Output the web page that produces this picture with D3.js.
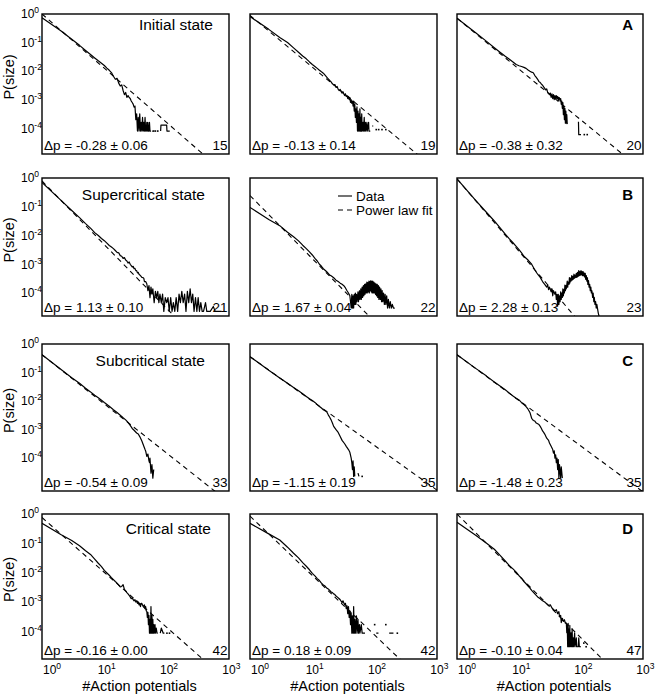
<!DOCTYPE html>
<html><head><meta charset="utf-8">
<script src="https://cdn.jsdelivr.net/npm/d3@7"></script>
<style>body{margin:0;background:#fff}text{font-family:Arial,"Liberation Sans",sans-serif;fill:#000}</style>
</head><body><svg id="c" width="656" height="695"></svg>
<script>
// ---------- DATA: [avalanche size (#action potentials), P(size)] ----------
const initial1=[[1,0.74],[2,0.26],[3,0.13],[4,0.08],[5,0.053],[6,0.038],[7,0.029],[8,0.023],[9,0.019],[10,0.0158],[11,0.0128],[12,0.0107],[13,0.0089],[14,0.0066],[15,0.0052],[16,0.0056],[17,0.0038],[18,0.003],[19,0.0033],[20,0.0021],[21,0.0015],[22,0.0018],[23,0.0012],[24,0.0014],[25,0.0012],[26,0.0011],[27,0.0009],[28,0.0008],[29,0.0007],[30,0.00055],[31,0.0006],[32,0.0002],[33,0.00032],[34,0.00008],[35,0.00024],[36,0.00008],[37,0.00032],[38,0.00008],[39,0.00016],[40,0.00008],[41,0.00024],[42,0.00008],[43,0.00016],[44,0.00008],[45,0.00024],[46,0.00008],[47,0.00008],[48,0.00016],[49,0.00008],[50,0.00016],[51,0.00008],[52,0.00008],[53,0.00016],[54,0.00008],[56,0.00008],[57,0],[58,0.00008],[60,0.00008],[61,0],[62,0.00008],[63,0],[66,0.00008],[67,0],[72,0.00008],[73,0],[80,0.00008],[81,0.00013],[100,0.00013],[101,0.00008],[112,0.00008],[113,0]];
const initial2=[[1,0.81],[2,0.29],[3,0.15],[4,0.1],[5,0.065],[6,0.046],[7,0.034],[8,0.027],[9,0.021],[10,0.017],[11,0.0145],[12,0.0125],[13,0.0108],[14,0.0095],[15,0.0085],[16,0.0072],[17,0.0062],[18,0.0054],[19,0.0047],[20,0.0042],[21,0.0036],[22,0.0033],[23,0.0034],[24,0.0027],[25,0.0029],[26,0.0023],[27,0.0021],[28,0.0023],[29,0.0019],[30,0.0017],[31,0.0019],[32,0.0016],[33,0.0014],[34,0.0016],[35,0.0013],[36,0.0014],[37,0.0011],[38,0.0013],[39,0.001],[40,0.0012],[41,0.0008],[42,0.001],[43,0.00075],[44,0.0009],[45,0.0006],[46,0.0009],[47,0.0004],[48,0.0007],[49,0.00024],[50,0.00048],[51,0.00016],[52,0.00056],[53,0.00008],[54,0.0004],[55,0.00008],[56,0.00032],[57,0.00008],[58,0.00048],[59,0.00008],[60,0.00024],[61,0.00008],[62,0.00032],[63,0.00008],[65,0.00016],[66,0.00008],[68,0.00024],[69,0.00008],[71,0.00016],[72,0.00008],[75,0.00016],[76,0.00008],[80,0.00016],[81,0.00008],[85,0.00008],[86,0],[90,0],[91,0.00012],[95,0.00012],[96,0],[105,0],[106,0.00009],[107,0],[115,0],[116,0.00009],[117,0],[130,0],[131,0.00009],[132,0],[150,0],[151,0.00009],[152,0]];
const initial3=[[1,0.71],[2,0.22],[3,0.11],[4,0.066],[5,0.045],[6,0.033],[7,0.026],[8,0.021],[9,0.017],[10,0.0155],[11,0.0145],[12,0.0135],[13,0.0125],[14,0.011],[15,0.01],[16,0.0092],[17,0.0088],[18,0.007],[19,0.006],[20,0.0052],[21,0.0043],[22,0.004],[23,0.0035],[24,0.0032],[25,0.0028],[26,0.0025],[27,0.0022],[28,0.0024],[29,0.0018],[30,0.0017],[31,0.0015],[32,0.0017],[33,0.0012],[34,0.0016],[35,0.0011],[36,0.0015],[37,0.001],[38,0.0014],[39,0.0011],[40,0.0014],[41,0.0011],[42,0.0013],[43,0.0009],[44,0.0012],[45,0.00115],[46,0.0009],[47,0.0011],[48,0.0007],[49,0.0009],[50,0.0005],[51,0.0008],[52,0.0003],[53,0.0006],[54,0.0002],[55,0.0005],[56,0.00015],[57,0.0004],[58,0.00015],[59,0.0003],[60,0.00014],[61,0],[90,0],[91,0.00017],[92,0.00006],[100,0.00006],[101,0],[112,0],[113,0.00006],[114,0],[125,0],[126,0.00006],[127,0]];
const super1=[[1,0.7],[2,0.17],[3,0.074],[4,0.042],[5,0.026],[6,0.018],[7,0.0126],[8,0.01],[9,0.0079],[10,0.0066],[11,0.0054],[12,0.0045],[13,0.004],[14,0.0035],[15,0.003],[16,0.0026],[17,0.0025],[18,0.002],[19,0.0019],[20,0.0016],[21,0.0017],[22,0.0014],[23,0.0013],[24,0.0011],[25,0.0012],[26,0.001],[27,0.0009],[28,0.0008],[29,0.00085],[30,0.0007],[31,0.00072],[32,0.0006],[33,0.0006],[34,0.0005],[35,0.00052],[36,0.00045],[38,0.0004],[40,0.00035],[42,0.00034],[43,0.00032],[44,0.00025],[46,0.00025],[48,0.00021],[50,1.2e-4],[52,1.8e-4],[54,6.9e-5],[56,1.6e-4],[58,9.2e-5],[60,1.4e-4],[63,4.6e-5],[66,1.15e-4],[69,6.9e-5],[72,1.15e-4],[75,4.6e-5],[78,9.2e-5],[82,4.6e-5],[86,9.2e-5],[90,2.3e-5],[95,6.9e-5],[100,4.6e-5],[105,6.9e-5],[110,2.3e-5],[116,6.9e-5],[122,2.3e-5],[128,4.6e-5],[135,2.3e-5],[142,6.9e-5],[150,2.3e-5],[158,9.2e-5],[166,4.6e-5],[175,1.15e-4],[184,4.6e-5],[194,9.2e-5],[204,2.3e-5],[215,1.15e-4],[226,4.6e-5],[238,1.4e-4],[250,4.6e-5],[262,9.2e-5],[275,2.3e-5],[290,6.9e-5],[305,2.3e-5],[320,6.9e-5],[336,2.3e-5],[353,4.6e-5],[371,2.3e-5],[390,2.3e-5],[420,4.6e-5],[440,2.3e-5],[500,2.3e-5],[560,3.4e-5],[600,2.3e-5],[700,2.3e-5],[760,2.3e-5]];
const super2=[[1,0.095],[2,0.036],[3,0.022],[4,0.013],[5,0.009],[6,0.0065],[7,0.0046],[8,0.0035],[9,0.0027],[10,0.0021],[11,0.0016],[12,0.0013],[13,0.001],[14,0.00085],[15,0.0007],[16,0.00062],[17,0.00055],[18,0.00048],[19,0.00042],[20,0.0004],[22,0.00034],[24,0.00028],[26,0.00025],[28,0.00022],[30,0.0002],[32,0.00018],[34,0.00015],[36,0.00012],[38,0.0001],[40,0.00008],[41,0.00005],[42,0.00003],[43,0.00009],[44,0.00003],[45,0.00008],[46,0.00003],[47,0.00009],[48,0.00004],[49,0.0001],[50,0.00004],[51,0.00009],[52,0.00005],[54,0.00011],[55,0.00005],[57,0.00012],[58,0.00006],[60,0.00014],[61,0.00006],[63,0.00016],[64,0.00007],[66,0.00018],[67,0.00008],[69,0.0002],[70,0.00009],[72,0.00021],[73,0.0001],[75,0.00024],[76,0.0001],[78,0.00023],[79,0.00011],[81,0.00026],[82,0.0001],[84,0.00025],[85,0.00012],[87,0.00027],[88,0.00011],[90,0.00025],[91,0.0001],[93,0.00026],[95,0.0001],[97,0.00024],[99,0.0001],[101,0.00022],[103,0.00009],[105,0.00021],[107,0.00008],[110,0.0002],[112,0.00007],[115,0.00018],[117,0.00006],[120,0.00016],[123,0.00006],[126,0.00014],[129,0.00005],[132,0.00012],[135,0.00005],[139,0.0001],[143,0.00004],[147,0.00009],[151,0.00004],[156,0.00008],[161,0.00003],[166,0.00006],[172,0.00003],[178,0.00005],[185,0.00003],[192,0.00004],[200,0.00003],[210,0.00003]];
const super3=[[1,0.93],[2,0.166],[3,0.063],[4,0.032],[5,0.018],[6,0.0112],[7,0.0076],[8,0.0056],[9,0.0042],[10,0.0032],[11,0.0025],[12,0.0019],[14,0.0014],[16,0.001],[18,0.00063],[20,0.00045],[22,0.00035],[24,0.00025],[26,0.0002],[28,0.00016],[29,0.00019],[30,0.00013],[31,0.00016],[33,0.00011],[34,0.00014],[35,0.00008],[36,0.00012],[38,0.00009],[39,0.00011],[40,0.00006],[41,0.00009],[42,0.000035],[43,0.00009],[44,0.00004],[45,0.00008],[46,0.00005],[47,0.00011],[48,0.00006],[49,0.0001],[50,0.00007],[51,0.00014],[52,0.00008],[53,0.00013],[54,0.0001],[55,0.00019],[56,0.00012],[57,0.00018],[58,0.00014],[60,0.00026],[61,0.00016],[62,0.00024],[64,0.0002],[65,0.00034],[66,0.00022],[68,0.00033],[69,0.00026],[71,0.0004],[72,0.00028],[74,0.00038],[75,0.0003],[77,0.00045],[78,0.00032],[80,0.00042],[82,0.00034],[84,0.00048],[86,0.00035],[88,0.00052],[90,0.00038],[92,0.0006],[94,0.0004],[96,0.00055],[98,0.00042],[100,0.0006],[102,0.00043],[104,0.00055],[106,0.0004],[108,0.00056],[110,0.0004],[112,0.0005],[114,0.00036],[117,0.00048],[119,0.0003],[122,0.0004],[124,0.00026],[127,0.00034],[129,0.0002],[132,0.00027],[135,0.00016],[138,0.0002],[141,0.00012],[144,0.00016],[147,0.0001],[150,0.00012],[154,0.00007],[157,0.0001],[161,0.00005],[164,0.00007],[168,0.00004],[172,0.00005],[176,0.00003],[180,0.00004],[190,0.00002],[200,0.000013]];
const sub1=[[1,0.42],[2,0.13],[3,0.066],[4,0.042],[5,0.028],[6,0.021],[7,0.016],[8,0.013],[9,0.0107],[10,0.0089],[12,0.0066],[14,0.005],[16,0.004],[18,0.0032],[20,0.0026],[22,0.0022],[24,0.0018],[26,0.0014],[28,0.0011],[30,0.00095],[33,0.00076],[35,0.0007],[37,0.00057],[40,0.0004],[43,0.00026],[45,0.0002],[46,0.00018],[48,0.000115],[50,0.00014],[52,0.00008],[53,0.00007],[54,0.0001],[56,0.00003],[58,0.00006],[60,0.00002],[62,0.00004]];
const sub2=[[1,0.36],[2,0.12],[3,0.065],[4,0.042],[5,0.03],[6,0.023],[7,0.018],[8,0.0145],[9,0.012],[10,0.0105],[11,0.009],[12,0.0075],[13,0.0065],[14,0.0057],[15,0.005],[16,0.0046],[17,0.0042],[18,0.0033],[19,0.0027],[20,0.0022],[21,0.0017],[22,0.0013],[24,0.001],[26,0.0008],[28,0.00057],[30,0.00042],[33,0.00032],[35,0.00026],[38,0.0002],[40,0.00016],[42,0.0001],[43,0.00007],[44,0.00004],[45,0.00008],[46,0.000023],[47,0.00005],[48,0.000023],[49,0],[53,0],[54,0.00003],[56,0.000023],[57,0],[62,0],[63,0.000023],[64,0]];
const sub3=[[1,0.42],[2,0.14],[3,0.075],[4,0.047],[5,0.033],[6,0.025],[7,0.019],[8,0.015],[9,0.0125],[10,0.011],[11,0.0088],[12,0.0075],[13,0.0064],[14,0.0052],[15,0.004],[16,0.0025],[17,0.0021],[18,0.002],[19,0.0017],[20,0.0016],[21,0.0015],[22,0.0013],[23,0.0011],[24,0.0009],[25,0.0008],[26,0.0007],[28,0.0005],[30,0.00042],[31,0.00034],[33,0.00026],[35,0.0002],[36,0.00015],[37,0.00018],[38,0.0001],[39,0.00013],[40,0.00007],[41,0.0001],[42,0.00004],[43,0.00009],[44,0.00002],[45,0.00006],[47,0.00002],[48,0.00005],[50,0.00002]];
const crit1=[[1,0.48],[2,0.2],[3,0.125],[4,0.083],[5,0.056],[6,0.042],[7,0.029],[8,0.021],[9,0.016],[10,0.012],[11,0.0098],[12,0.0082],[13,0.0068],[14,0.0058],[15,0.005],[16,0.0044],[17,0.0038],[18,0.0033],[19,0.0034],[20,0.0039],[21,0.0027],[22,0.0024],[23,0.0021],[24,0.0019],[25,0.0017],[26,0.0015],[27,0.0013],[28,0.0014],[29,0.0012],[30,0.0011],[31,0.0012],[32,0.001],[33,0.0011],[34,0.0009],[35,0.001],[36,0.0008],[37,0.0009],[38,0.0007],[39,0.0009],[40,0.0009],[42,0.0007],[44,0.0008],[45,0.0006],[46,0.0007],[47,0.0005],[48,0.00048],[49,0.0003],[50,0.00045],[51,0.00017],[52,0.00035],[53,0.000087],[54,0.00026],[55,0.000087],[56,0.0007],[57,0.000087],[58,0.00035],[59,0.000087],[60,0.00026],[61,0.000087],[62,0.00017],[63,0.000087],[65,0.00017],[66,0.000087],[68,0.00013],[70,0.000087],[72,0.000087],[73,0],[78,0],[79,0.000087],[82,0.00013],[88,0.000087],[92,0.000087],[93,0],[100,0],[101,0.000087],[102,0],[110,0],[111,0.000087],[112,0]];
const crit2=[[1,0.48],[2,0.21],[3,0.13],[4,0.074],[5,0.046],[6,0.032],[7,0.022],[8,0.0166],[9,0.0126],[10,0.0095],[11,0.0078],[12,0.0063],[13,0.0054],[14,0.0044],[15,0.0038],[16,0.0035],[17,0.003],[18,0.0028],[19,0.0025],[20,0.0022],[21,0.0021],[22,0.0019],[23,0.0018],[24,0.0016],[25,0.0015],[27,0.0013],[28,0.0012],[30,0.00095],[31,0.0011],[33,0.0008],[34,0.0009],[35,0.0006],[36,0.00075],[37,0.0004],[38,0.0007],[39,0.0003],[40,0.0005],[41,0.00017],[42,0.00042],[43,0.000087],[44,0.00034],[45,0.000087],[46,0.0007],[47,0.000087],[48,0.00026],[49,0.000087],[51,0.00034],[52,0.000087],[54,0.00026],[55,0.000087],[57,0.00017],[58,0.000087],[61,0.00017],[63,0.000087],[66,0.000087],[70,0.000087],[71,0],[99,0],[100,0.00017],[101,0],[105,0],[106,0.000087],[115,0.000087],[116,0],[150,0],[151,0.00017],[152,0],[170,0],[171,0.000087],[200,0.000087],[201,0],[230,0],[231,0.000087],[232,0]];
const crit3=[[1,0.52],[2,0.19],[3,0.1],[4,0.063],[5,0.038],[6,0.025],[7,0.0174],[8,0.0135],[9,0.0105],[10,0.0079],[11,0.0065],[12,0.005],[13,0.0042],[14,0.0035],[15,0.003],[16,0.0025],[18,0.0019],[20,0.0015],[22,0.0013],[24,0.0011],[26,0.001],[28,0.00087],[30,0.00076],[32,0.0008],[34,0.00063],[36,0.00056],[38,0.0005],[40,0.00055],[42,0.0004],[44,0.00047],[45,0.00032],[47,0.00035],[48,0.0002],[50,0.00028],[52,0.00022],[54,0.00025],[56,0.00019],[58,0.00019],[59,0.00009],[60,0.00016],[61,0.00003],[62,0.00019],[63,0.00003],[64,0.00012],[65,0.00003],[66,0.00016],[67,0.00003],[69,0.00009],[70,0.00003],[72,0.00012],[73,0.00003],[75,0.00006],[76,0.00003],[79,0.00009],[80,0.00003],[84,0.00006],[85,0.00003],[90,0.00003],[92,0.00006],[94,0.00003],[100,0.00003],[101,0],[110,0],[111,0.00004],[112,0],[120,0],[121,0.00003],[122,0]];

// power-law fits: two end points each
const fitInitial=[[[1,1],[430,1e-5]],[[1,0.89],[540,1e-5]],[[1,0.71],[530,1e-5]]];
const fitSuper=[[[1,0.79],[162,1e-5]],[[1,0.245],[100,1e-5]],[[1,0.93],[94,1e-5]]];
const fitSub=[[[1,0.42],[630,6.3e-6]],[[1,0.36],[1000,7.6e-6]],[[1,0.42],[1000,6.6e-6]]];
const fitCrit=[[[1,0.76],[407,1e-5]],[[1,0.85],[270,1e-5]],[[1,1],[234,1e-5]]];

const stateLabels=["Initial state","Supercritical state","Subcritical state","Critical state"];
const panelLetters=["A","B","C","D"];
const dpMean=[[-0.28,-0.13,-0.38],[1.13,1.67,2.28],[-0.54,-1.15,-1.48],[-0.16,0.18,-0.10]];
const dpErr=[[0.06,0.14,0.32],[0.10,0.04,0.13],[0.09,0.19,0.23],[0.00,0.09,0.04]];
const nCount=[[15,19,20],[21,22,23],[33,35,35],[42,42,47]];
const xTicks=[1,10,100,1000];
const yTicks=[1,0.1,0.01,0.001,0.0001];
const legendLabels=["Data","Power law fit"];

// ---------- LAYOUT ----------
const dataRows=[[initial1,initial2,initial3],[super1,super2,super3],[sub1,sub2,sub3],[crit1,crit2,crit3]];
const fitRows=[fitInitial,fitSuper,fitSub,fitCrit];
const cols=[{l:42,r:229},{l:250,r:437},{l:457,r:643}];
const rows=[{t:14,b:154,e:-4.9,lab:16,labR:16},{t:178,b:316,e:-4.8,lab:22,labR:24},{t:344,b:491,e:-5.15,lab:22,labR:24},{t:514,b:659,e:-4.94,lab:20,labR:18}];

const svg=d3.select("#c");
const defs=svg.append("defs");

function pow10(g,x,y,exp,anchor){
  const t=g.append("text").attr("x",x).attr("y",y).attr("text-anchor",anchor||"start").style("font-size","12px");
  t.append("tspan").text("10");
  t.append("tspan").attr("dy",-5).style("font-size","8.5px").text(exp);
}

rows.forEach((R,ri)=>{
  cols.forEach((C,ci)=>{
    const x=d3.scaleLog().domain([1,1000]).range([C.l,C.r]);
    const y=d3.scaleLog().domain([Math.pow(10,R.e),1]).range([R.b,R.t]);
    const id="clip"+ri+ci;
    defs.append("clipPath").attr("id",id).append("rect").attr("x",C.l).attr("y",R.t).attr("width",C.r-C.l).attr("height",R.b-R.t);
    const g=svg.append("g");
    const pg=g.append("g").attr("clip-path",`url(#${id})`);
    const fit=fitRows[ri][ci];
    pg.append("path").attr("d",d3.line().x(d=>x(d[0])).y(d=>y(d[1]))(fit))
      .attr("fill","none").attr("stroke","#000").attr("stroke-width",1.1).attr("stroke-dasharray","5,4");
    const data=dataRows[ri][ci];
    const line=d3.line().defined(d=>d[1]>0).x(d=>x(d[0])).y(d=>y(d[1]));
    pg.append("path").attr("d",line(data)).attr("fill","none").attr("stroke","#000").attr("stroke-width",1.2).attr("stroke-linejoin","round");
    const iso=data.filter((d,i)=>d[1]>0&&(i===0||data[i-1][1]<=0)&&(i===data.length-1||data[i+1][1]<=0));
    pg.selectAll("rect.dot").data(iso).enter().append("rect").attr("class","dot")
      .attr("x",d=>x(d[0])-0.8).attr("y",d=>y(d[1])-0.8).attr("width",1.6).attr("height",1.6).attr("fill","#000");
    g.append("rect").attr("x",C.l).attr("y",R.t).attr("width",C.r-C.l).attr("height",R.b-R.t)
      .attr("fill","none").attr("stroke","#000").attr("stroke-width",1.4);
    g.append("text").attr("x",C.l+2).attr("y",R.b-4).style("font-size","13.5px")
      .text(`Δp = ${dpMean[ri][ci].toFixed(2)} ± ${dpErr[ri][ci].toFixed(2)}`);
    g.append("text").attr("x",C.r-1.5).attr("y",R.b-4).attr("text-anchor","end").style("font-size","13.5px").text(nCount[ri][ci]);
    if(ci===0){
      g.append("text").attr("x",C.r-R.labR).attr("y",R.t+R.lab).attr("text-anchor","end").style("font-size","15.5px").text(stateLabels[ri]);
      yTicks.forEach(v=>pow10(g,21,y(v)+4.3,String(Math.round(Math.log10(v)))));
      g.append("text").attr("transform",`translate(13.5,${(R.t+R.b)/2-7}) rotate(-90)`).attr("text-anchor","middle").style("font-size","14.5px").text("P(size)");
    }
    if(ci===2){
      g.append("text").attr("x",C.r-10).attr("y",R.t+R.lab).attr("text-anchor","end").style("font-size","15px").style("font-weight","bold").text(panelLetters[ri]);
    }
    if(ri===3){
      xTicks.forEach((v,i)=>{
        const e=String(Math.round(Math.log10(v)));
        pow10(g,i===0?x(v)+1:x(v)-6.7,R.b+15,e,"start");
      });
      g.append("text").attr("x",(C.l+C.r)/2+4).attr("y",690.5).attr("text-anchor","middle").style("font-size","14.5px").text("#Action potentials");
    }
    if(ri===1&&ci===1){
      const lx=338, lw=14;
      g.append("line").attr("x1",lx).attr("x2",lx+lw).attr("y1",196).attr("y2",196).attr("stroke","#000").attr("stroke-width",1.1);
      g.append("line").attr("x1",lx).attr("x2",lx+lw).attr("y1",210).attr("y2",210).attr("stroke","#000").attr("stroke-width",1.1).attr("stroke-dasharray","5,4");
      g.append("text").attr("x",lx+lw+4).attr("y",200.5).style("font-size","13.5px").text(legendLabels[0]);
      g.append("text").attr("x",lx+lw+4).attr("y",214.5).style("font-size","13.5px").text(legendLabels[1]);
    }
  });
});
</script></body></html>
